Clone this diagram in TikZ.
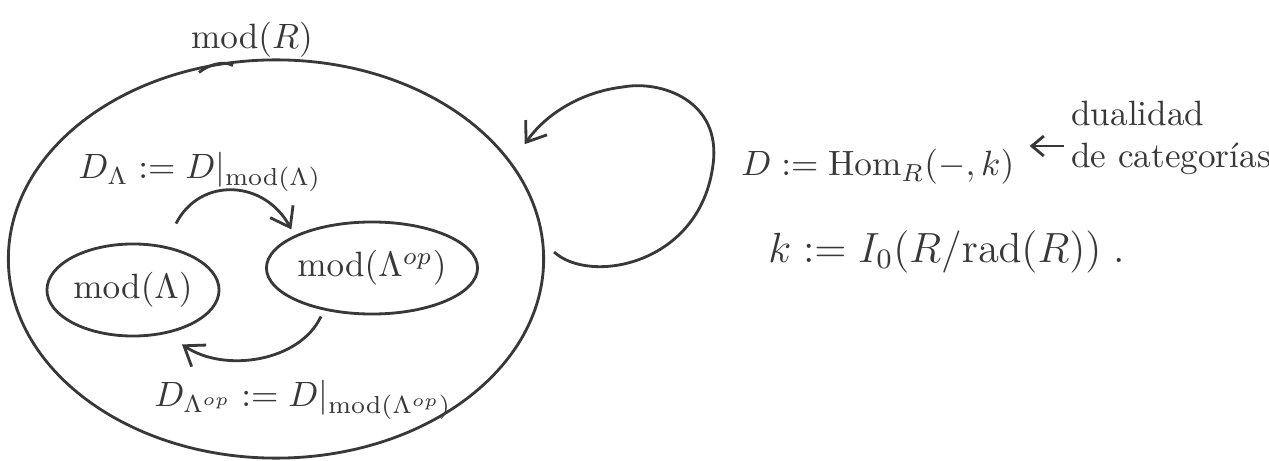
\documentclass[tikz,border=0pt]{standalone}
\usetikzlibrary{arrows.meta,shapes.geometric}
\definecolor{Ink}{HTML}{383838}

\begin{document}
\begin{tikzpicture}[x=0.01cm,y=-0.01cm,line width=0.8pt,color=Ink,
    set/.style={ellipse,draw,inner sep=0pt},
    arr/.style={-{Straight Barb[length=1.8mm,width=2.6mm]}}]
  \useasboundingbox (0,0) rectangle (1269,461);
  % categories
  \node[set,minimum width=5.35cm,minimum height=3.98cm] (modR) at (276,259) {};
  \node (modRlab) at (252,40) {$\mathrm{mod}(R)$};
  \node[set,minimum width=1.72cm,minimum height=0.92cm] (modL) at (133,290) {$\mathrm{mod}(\Lambda)$};
  \node[set,minimum width=1.83cm,minimum height=0.92cm] (modLop) at (372,268) {$\mathrm{mod}(\Lambda^{op})$};
  \draw ([shift={(-77,14)}]modR.north) .. controls +(10,-8) and +(-10,-5) .. ([shift={(-43,7)}]modR.north);
  % restricted dualities
  \node (DL) at (200,172) {$D_\Lambda := D|_{\mathrm{mod}(\Lambda)}$};
  \node (DLop) at (303,400) {$D_{\Lambda^{op}} := D|_{\mathrm{mod}(\Lambda^{op})}$};
  \draw[arr] ([shift={(43,-19)}]modL.north) .. controls +(24,-47) and +(-27,-50) .. ([shift={(-5,-5)}]modLop.north west);
  \draw[arr] ([shift={(-51,1)}]modLop.south) .. controls +(-21,45) and +(43,29) .. ([shift={(49,7)}]modL.south);
  % D on mod(R)
  \draw[arr] ([shift={(9,-7)}]modR.east) .. controls (590,285) and (700,265) .. (713,165)
    .. controls (722,100) and (660,80) .. (623,87)
    .. controls (580,92) and (545,115) .. ([shift={(36,8)}]modR.30);
  \node[anchor=west,inner sep=0pt] (Ddef) at (740,167) {$D := \mathrm{Hom}_R(-,k)$};
  \node[anchor=west,align=left,inner sep=0pt] (dual) at (1070,138) {dualidad\\de categor\'{\i}as};
  \draw[-{Straight Barb[length=1.2mm,width=2mm]},shorten <=0.6mm,shorten >=1.4mm]
    ([yshift=-0.08cm]dual.west) -- ([yshift=-0.08cm]dual.west -| Ddef.east);
  \node[anchor=west,inner sep=0pt,font=\large] (kdef) at (767,252) {$k := I_0(R/\mathrm{rad}(R))\;.$};
\end{tikzpicture}
\end{document}
